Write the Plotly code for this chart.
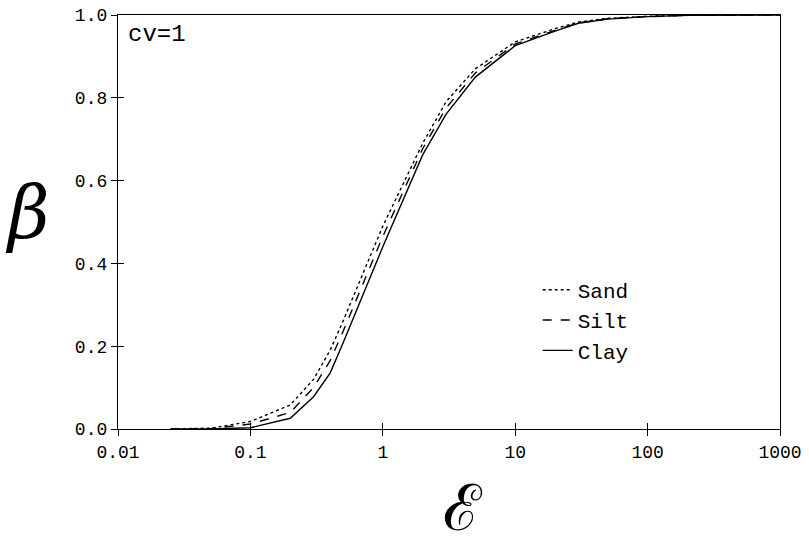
import plotly.graph_objects as go

eps = [0.025, 0.05, 0.1, 0.2, 0.3, 0.4, 0.5, 1, 2, 3, 5, 10, 20, 30, 50, 100, 200, 500, 1000]
sand = [0.0, 0.002, 0.018, 0.058, 0.12, 0.19, 0.26, 0.49, 0.69, 0.79, 0.87, 0.935, 0.967, 0.983, 0.992, 0.997, 0.999, 1.0, 1.0]
silt = [0.0, 0.001, 0.012, 0.04, 0.10, 0.165, 0.235, 0.465, 0.677, 0.775, 0.86, 0.93, 0.963, 0.981, 0.991, 0.996, 0.999, 1.0, 1.0]
clay = [0.0, 0.0, 0.003, 0.026, 0.078, 0.135, 0.207, 0.44, 0.662, 0.76, 0.85, 0.926, 0.961, 0.98, 0.99, 0.996, 0.999, 1.0, 1.0]
series_names = ["Sand", "Silt", "Clay"]
x_ticks = [0.01, 0.1, 1, 10, 100, 1000]
x_tick_labels = ["0.01", "0.1", "1", "10", "100", "1000"]
y_ticks = [0.0, 0.2, 0.4, 0.6, 0.8, 1.0]
y_tick_labels = ["0.0", "0.2", "0.4", "0.6", "0.8", "1.0"]

FONT = "Liberation Mono"

fig = go.Figure()
for name, vals, dash in zip(series_names, [sand, silt, clay], ["dot", "dash", "solid"]):
    fig.add_trace(go.Scatter(
        x=eps, y=vals, mode="lines", name=name,
        line=dict(color="black", width=1.4, dash=dash),
    ))

axis_common = dict(showgrid=False, zeroline=False, linecolor="black", linewidth=1.3,
                   tickcolor="black", ticklen=6, tickwidth=1.2)

fig.update_layout(
    width=809, height=545,
    margin=dict(l=118, r=29, t=15, b=116, autoexpand=False),
    paper_bgcolor="white", plot_bgcolor="white",
    font=dict(family=FONT, size=18, color="black"),
    xaxis=dict(type="log", range=[-2, 3], tickvals=x_ticks, ticktext=x_tick_labels,
               ticks="outside", mirror=True, showline=True, **axis_common),
    yaxis=dict(range=[0, 1], tickvals=y_ticks, ticktext=y_tick_labels,
               ticks="outside", mirror=True, showline=True, **axis_common),
    xaxis2=dict(type="log", range=[-2, 3], tickvals=x_ticks, showticklabels=False,
                ticks="inside", overlaying="x", showline=False, showgrid=False,
                zeroline=False, tickcolor="black", ticklen=6, tickwidth=1.2),
    yaxis2=dict(range=[0, 1], tickvals=y_ticks, showticklabels=False,
                ticks="inside", overlaying="y", showline=False, showgrid=False,
                zeroline=False, tickcolor="black", ticklen=6, tickwidth=1.2),
    showlegend=True,
    legend=dict(x=0.634, y=0.385, xanchor="left", yanchor="top",
                bgcolor="rgba(0,0,0,0)", font=dict(family=FONT, size=21),
                tracegroupgap=0, itemwidth=30),
    annotations=[
        dict(text="cv=1", x=0.012, y=0.99, xref="paper", yref="paper",
             xanchor="left", yanchor="top", showarrow=False,
             font=dict(family=FONT, size=24)),
        dict(text="<i>β</i>", x=-0.137, y=0.522, xref="paper", yref="paper",
             xanchor="center", yanchor="middle", showarrow=False,
             font=dict(family="DejaVu Serif", size=72)),
        dict(text="ℰ", x=0.521, y=-0.19, xref="paper", yref="paper",
             xanchor="center", yanchor="middle", showarrow=False,
             font=dict(family="DejaVu Serif", size=64)),
    ],
)
fig.add_trace(go.Scatter(x=[0.01], y=[0], xaxis="x2", yaxis="y2", mode="markers",
                         marker=dict(opacity=0), showlegend=False, hoverinfo="skip"))

fig.write_html("out.html", config={"displayModeBar": False},
               post_script="document.body.style.margin='0';document.body.style.padding='0';")
